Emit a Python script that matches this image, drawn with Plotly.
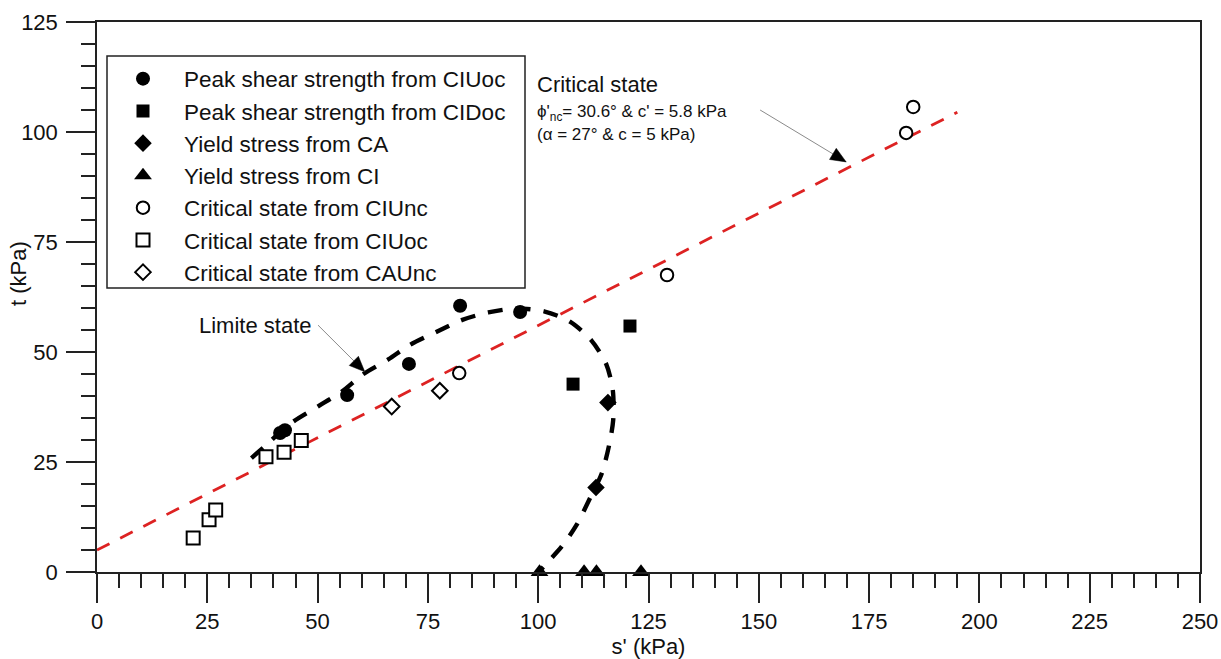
import math
import plotly.graph_objects as go

FONT = "Liberation Sans, Arial, sans-serif"

# ---- data ----
peak_ciuoc_s = [41.5, 42.6, 56.7, 70.7, 82.3, 95.9]
peak_ciuoc_t = [31.6, 32.2, 40.2, 47.3, 60.5, 59.1]

peak_cidoc_s = [107.9, 120.8]
peak_cidoc_t = [42.7, 55.9]

yield_ca_s = [113.1, 115.8]
yield_ca_t = [19.2, 38.5]

yield_ci_s = [100.3, 110.4, 113.2, 123.3]
yield_ci_t = [0.0, 0.0, 0.0, 0.0]

crit_ciunc_s = [82.1, 129.2, 183.4, 185.0]
crit_ciunc_t = [45.2, 67.5, 99.8, 105.7]

crit_ciuoc_s = [21.8, 25.4, 26.9, 38.3, 42.4, 46.3]
crit_ciuoc_t = [7.7, 11.9, 14.1, 26.2, 27.2, 29.9]

crit_caunc_s = [66.8, 77.7]
crit_caunc_t = [37.6, 41.2]

# critical state line (alpha = 27 deg, c = 5 kPa)
cs_line_s = [0.0, 195.0]
cs_line_t = [5.0, 104.5]

# limit state curve (dashed black)
limit_s = [35.0, 38.5, 42.0, 44.5, 50.2, 55.5, 60.4, 66.0, 70.9, 77.0, 82.8,
           88.7, 95.0, 101.5, 107.2, 112.0, 115.4, 116.9, 117.0, 116.0,
           114.4, 111.7, 108.7, 105.3, 101.2, 100.2]
limit_t = [25.9, 29.0, 32.2, 34.2, 37.7, 41.0, 45.0, 48.3, 51.6, 54.6, 57.3,
           59.0, 59.9, 59.2, 56.9, 52.7, 47.3, 41.4, 34.5, 28.5,
           22.4, 16.7, 10.7, 5.75, 1.2, 0.0]

x_ticks = [0, 25, 50, 75, 100, 125, 150, 175, 200, 225, 250]
y_ticks = [0, 25, 50, 75, 100, 125]
x_range = [0, 250]
y_range = [0, 125]

# annotation arrows: (tail, tip) in data units
cs_arrow_tail = (150.3, 105.0)
cs_arrow_tip = (169.8, 93.2)
ls_arrow_tail = (50.1, 56.1)
ls_arrow_tip = (60.7, 45.5)

# ---- layout geometry ----
W, H = 1221, 659
ML, MR, MT, MB = 97, 21, 22, 87
PW, PH = W - ML - MR, H - MT - MB
SX = PW / (x_range[1] - x_range[0])
SY = PH / (y_range[1] - y_range[0])

fig = go.Figure()

fig.add_trace(go.Scatter(x=cs_line_s, y=cs_line_t, mode="lines",
                         line=dict(color="#dd2222", width=2.8, dash="14px,12px"),
                         showlegend=False, hoverinfo="skip", cliponaxis=False))
fig.add_trace(go.Scatter(x=limit_s, y=limit_t, mode="lines",
                         line=dict(color="black", width=4.4, dash="15px,13px",
                                   shape="spline", smoothing=0.8),
                         showlegend=False, hoverinfo="skip", cliponaxis=False))

def pts(x, y, name, symbol, size, filled=True):
    if filled:
        marker = dict(symbol=symbol, size=size, color="black",
                      line=dict(width=0))
    else:
        marker = dict(symbol=symbol, size=size, color="white",
                      line=dict(color="black", width=2))
    fig.add_trace(go.Scatter(x=x, y=y, mode="markers", name=name,
                             marker=marker, cliponaxis=False))

pts(peak_ciuoc_s, peak_ciuoc_t, "Peak shear strength from CIUoc", "circle", 14)
pts(peak_cidoc_s, peak_cidoc_t, "Peak shear strength from CIDoc", "square", 13)
pts(yield_ca_s, yield_ca_t, "Yield stress from CA", "diamond", 13.5)
pts(yield_ci_s, yield_ci_t, "Yield stress from CI", "triangle-up", 15.5)
pts(crit_ciunc_s, crit_ciunc_t, "Critical state from CIUnc", "circle", 12.5, False)
pts(crit_ciuoc_s, crit_ciuoc_t, "Critical state from CIUoc", "square", 13, False)
pts(crit_caunc_s, crit_caunc_t, "Critical state from CAUnc", "diamond", 12, False)

axis_common = dict(showgrid=False, zeroline=False, showline=True, linecolor="#222",
                   linewidth=1.5, mirror=True, ticks="outside", ticklen=29,
                   tickwidth=1.5, tickcolor="#222", automargin=False,
                   tickfont=dict(family=FONT, size=22, color="#111"),
                   minor=dict(ticks="outside", ticklen=14, tickwidth=1.5,
                              tickcolor="#222", dtick=5))

fig.update_xaxes(range=x_range, tickvals=x_ticks, ticktext=[str(v) for v in x_ticks],
                 title=dict(text="s' (kPa)", font=dict(family=FONT, size=22, color="#111"),
                            standoff=4),
                 **axis_common)
fig.update_yaxes(range=y_range, tickvals=y_ticks, ticktext=[str(v) for v in y_ticks],
                 ticklabelstandoff=4, **axis_common)

ann_font = dict(family=FONT, size=22, color="#111")
small_font = dict(family=FONT, size=17, color="#111")

annotations = [
    dict(xref="paper", yref="paper", x=(18 - ML) / PW, y=(572 - 274) / PH,
         text="t (kPa)", textangle=-90, showarrow=False, xanchor="center",
         yanchor="middle", font=ann_font),
    dict(x=99.2, y=110.8, text="Critical state", showarrow=False, xanchor="left",
         yanchor="middle", font=ann_font),
    dict(x=99.2, y=104.4, text="\u03d5'<sub>nc</sub>= 30.6\u00b0 & c' = 5.8 kPa",
         showarrow=False, xanchor="left", yanchor="middle", font=small_font),
    dict(x=99.2, y=99.4, text="(\u03b1 = 27\u00b0 & c = 5 kPa)", showarrow=False,
         xanchor="left", yanchor="middle", font=small_font),
    dict(x=22.6, y=56.1, text="Limite state", showarrow=False, xanchor="left",
         yanchor="middle", font=ann_font),
]

shapes = []

# legend frame
shapes.append(dict(type="rect", xref="paper", yref="paper",
                   x0=(107 - ML) / PW, x1=(525 - ML) / PW,
                   y0=(MT + PH - 288) / PH, y1=(MT + PH - 56) / PH,
                   line=dict(color="#222", width=1.5), fillcolor="white",
                   layer="above"))

def arrow(tail, tip, head_len=15.5, head_half=6.5):
    # grey leader line
    shapes.append(dict(type="line", x0=tail[0], y0=tail[1], x1=tip[0], y1=tip[1],
                       line=dict(color="#8a8a8a", width=1), layer="above"))
    # black triangular head, built in pixel space then converted to data units
    dxp = (tip[0] - tail[0]) * SX
    dyp = -(tip[1] - tail[1]) * SY
    L = math.hypot(dxp, dyp)
    ux, uy = dxp / L, dyp / L
    px, py = -uy, ux
    bx, by = -ux * head_len, -uy * head_len
    pts_px = [(0, 0), (bx + px * head_half, by + py * head_half),
              (bx - px * head_half, by - py * head_half)]
    pts_d = [(tip[0] + a / SX, tip[1] - b / SY) for a, b in pts_px]
    path = "M " + " L ".join(f"{a:.4f},{b:.4f}" for a, b in pts_d) + " Z"
    shapes.append(dict(type="path", path=path, fillcolor="black",
                       line=dict(color="black", width=0.5), layer="above"))

arrow(cs_arrow_tail, cs_arrow_tip)
arrow(ls_arrow_tail, ls_arrow_tip)

legend_top_px = 57.5
itemwidth = 72
fig.update_layout(
    width=W, height=H,
    margin=dict(l=ML, r=MR, t=MT, b=MB, autoexpand=False),
    paper_bgcolor="white", plot_bgcolor="white",
    font=dict(family=FONT, size=22, color="#111"),
    legend=dict(x=(102 - ML) / PW, y=(MT + PH - legend_top_px) / PH,
                xanchor="left", yanchor="top",
                borderwidth=0, bgcolor="rgba(0,0,0,0)",
                font=dict(family=FONT, size=22.5, color="#111"),
                itemwidth=itemwidth, tracegroupgap=0),
    annotations=annotations,
    shapes=shapes,
    showlegend=True,
)

fig.write_html("out.html")
